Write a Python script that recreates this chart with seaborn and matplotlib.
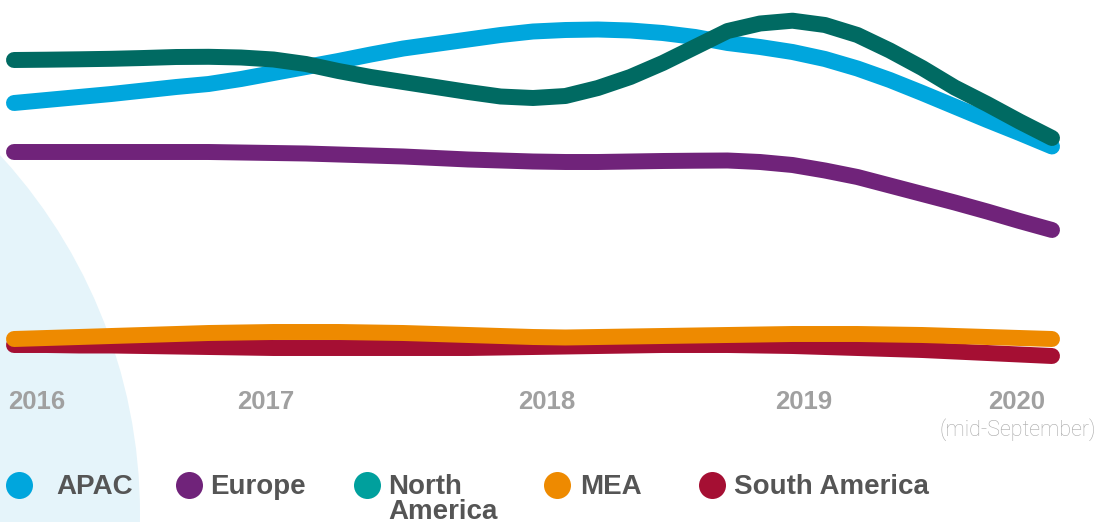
import numpy as np
import pandas as pd
import matplotlib
matplotlib.use("Agg")
import matplotlib.pyplot as plt
import seaborn as sns

# points every 1/8 year (2016 .. 2020), arbitrary index units
steps = np.linspace(2016, 2020, 33)

apac = [277, 280, 283, 286, 289.5, 293, 296, 301, 307, 313, 319, 325.5, 331.5, 336, 340.5,
        345, 348.5, 350, 350.5, 349.5, 347, 343, 337, 333, 328, 321, 311.5, 300, 287, 273.5,
        260, 247, 233.5]
north_america = [320, 320.3, 320.7, 321.2, 322, 323, 323.2, 322.5, 320.5, 316, 309, 303, 298,
                 293, 288, 283.5, 282, 284, 292, 303, 317, 333, 349, 356.5, 359.3, 355, 345,
                 329.5, 312, 292.5, 276, 258.5, 242]
europe = [228, 228, 228, 228, 228, 228, 228, 227.5, 227, 226.5, 225.5, 224.5, 223.5, 222, 220.5,
          219.5, 218.5, 218, 218, 218.5, 219, 219.3, 219.5, 218, 215, 209.5, 203, 194.5, 186,
          177.5, 168.5, 159, 150]
mea = [41, 42, 43, 44, 45, 46, 47, 47.5, 48, 48, 48, 47.5, 47, 46, 45, 44, 43, 42.5, 43, 43.5,
       44, 44.5, 45, 45.5, 46, 46, 46, 45.5, 45, 44, 43, 42, 41]
south_america = [35, 35, 34.5, 34.5, 34, 33.5, 33, 32.5, 32, 32, 32, 32, 32, 32, 32, 32.5, 33,
                 33.5, 34, 34.5, 35, 35, 35, 34.5, 34, 33, 32, 31, 30, 28.5, 27, 25.5, 24]

tick_years = [2016, 2017, 2018, 2019, 2020]
tick_labels = ["2016", "2017", "2018", "2019", "2020"]

regions = ["APAC", "Europe", "North\nAmerica", "MEA", "South America"]
line_colors = {"APAC": "#00A6DD", "Europe": "#70237A", "North\nAmerica": "#006A62",
               "MEA": "#EE8A00", "South America": "#A50F33"}
legend_colors = {"APAC": "#00A6DD", "Europe": "#70237A", "North\nAmerica": "#00A09D",
                 "MEA": "#EE8A00", "South America": "#A50F33"}
draw_order = ["APAC", "North\nAmerica", "Europe", "South America", "MEA"]

series = {"APAC": apac, "Europe": europe, "North\nAmerica": north_america,
          "MEA": mea, "South America": south_america}
df = pd.concat([pd.DataFrame({"year": steps, "value": v, "region": k})
                for k, v in series.items()], ignore_index=True)

sns.set_theme(style="white")
plt.rcParams['font.family'] = ['Liberation Sans', 'DejaVu Sans']

W, H = 1101, 522
fig = plt.figure(figsize=(W / 100, H / 100), dpi=100)

# background layer in pixel coordinates (decorative circle + legend)
bg = fig.add_axes([0, 0, 1, 1], zorder=0)
bg.set_xlim(0, W)
bg.set_ylim(H, 0)
bg.axis('off')
bg.add_patch(plt.Circle((-390, 514), 530, color='#E5F4FA', lw=0))

ax = fig.add_axes([14 / W, 142 / H, 1038 / W, 380 / H], zorder=1)
ax.patch.set_alpha(0)
sns.lineplot(data=df, x="year", y="value", hue="region", hue_order=draw_order,
             palette=line_colors, linewidth=11.5, solid_capstyle='round',
             legend=False, ax=ax)
for ln in ax.lines:
    ln.set_clip_on(False)

ax.set_xlim(2016, 2020)
ax.set_ylim(0, 380)
ax.set_xticks([])
ax.set_yticks([])
ax.set_xlabel('')
ax.set_ylabel('')
sns.despine(ax=ax, left=True, bottom=True)

# year labels under the lines (small pixel nudges to match the original layout)
nudges = [-6, -8, 14, 11, -7]
aligns = ['left', 'center', 'center', 'center', 'right']
for yr, lab, dx, ha in zip(tick_years, tick_labels, nudges, aligns):
    ax.annotate(lab, xy=(yr, 0), xycoords=('data', 'axes fraction'),
                xytext=(dx * 0.72, -29 * 0.72), textcoords='offset points',
                ha=ha, va='baseline', fontsize=18.5, fontweight='bold', color='#A0A0A0',
                annotation_clip=False)

ax.annotate('(mid-September)', xy=(1, 0), xycoords='axes fraction',
            xytext=(44 * 0.72, -50 * 0.72), textcoords='offset points',
            ha='right', va='center', fontsize=15.5, fontweight='light',
            family=['Roboto', 'DejaVu Sans'], color='#A8A8A8')

# legend: circle + bold label (first line of text level with the dot)
dot_x = [19, 189, 367, 557, 712]
text_x = [56, 210, 388, 580, 734]
for name, dx, tx in zip(regions, dot_x, text_x):
    bg.scatter([dx], [485], s=378, color=legend_colors[name], linewidths=0, zorder=3)
    bg.text(tx, 474, name, fontsize=20, fontweight='bold', color='#555555',
            ha='left', va='top', linespacing=0.93)

fig.savefig('out.png', dpi=100)
